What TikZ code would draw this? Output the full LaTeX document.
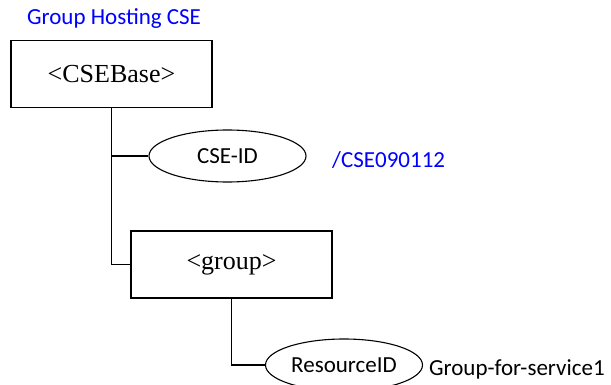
\documentclass[tikz,border=0pt]{standalone}
\usepackage{fontspec}
\setmainfont{Liberation Serif}
\newfontfamily\calibrifont{Carlito}
\usetikzlibrary{shapes.geometric}
\begin{document}
\begin{tikzpicture}[x=1pt,y=-1pt,
  resbox/.style={draw,line width=1.2pt,inner sep=0pt,minimum width=201pt,minimum height=67pt,font=\fontsize{26}{30}\selectfont},
  attr/.style={draw,ellipse,line width=1.1pt,inner sep=0pt,minimum width=157pt,minimum height=52pt,font=\calibrifont\fontsize{23}{27}\selectfont},
  lbl/.style={inner sep=0pt,anchor=base west,font=\calibrifont\fontsize{23}{27}\selectfont},
  conn/.style={line width=1.2pt}]
\useasboundingbox (0,0) rectangle (611,385);
\node[lbl,text=blue] (title) at (27,25) {Group Hosting CSE};
\node[resbox] (cse) at (111.5,74) {<CSEBase>};
\node[attr] (csid) at (227.5,156) {CSE-ID};
\node[lbl,text=blue] (csval) at (332,168) {/CSE090112};
\node[resbox] (grp) at (231.5,264.5) {<group>};
\node[attr] (rid) at (344,365) {ResourceID};
\node[lbl] (ridval) at (429,375) {Group-for-service1};
\draw[conn] (cse.south) |- (grp.west);
\draw[conn] (cse.south |- csid.west) -- (csid.west);
\draw[conn] (grp.south) |- (rid.west);
\end{tikzpicture}
\end{document}
